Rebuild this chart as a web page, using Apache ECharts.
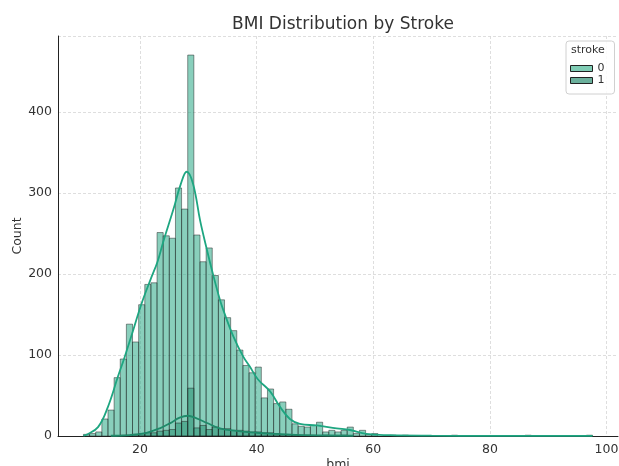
<!DOCTYPE html>
<html>
<head>
<meta charset="utf-8">
<script src="https://cdn.jsdelivr.net/npm/echarts@6/dist/echarts.min.js"></script>
<style>
 html,body{margin:0;padding:0;background:#fff;}
 #chart{width:619px;height:466px;}
</style>
</head>
<body>
<div id="chart"></div>
<script>
// histogram bins (bmi), counts
var binStart=10.3;
var binWidth=1.0518;
var stroke0=[2,3,5,21,32,72,95,138,116,162,187,189,251,247,244,306,280,470,248,215,
  232,198,168,146,130,106,87,78,85,47,58,40,42,33,15,12,11,13,17,5,
  7,5,7,11,3,7,2,3,0,0,1,0,1,0,0,0,0,0,0,0,
  1,0,0,0,0,0,0,0,0,0,0,0,1,0,0,0,0,0,0,0,
  0,0,1];
var stroke1=[0,0,0,0,0,0,1,1,2,3,4,4,6,7,8,16,18,59,10,13,
  8,11,9,9,7,7,6,5,5,4,4,3,2,2,1,1,1,1,0,1,
  0,0,1];
// kde curves [bmi, count]
var kde0=[[10.3,0.5],[10.8,1.5],[12.8,11],[14.5,36],[16.2,73],[17.3,96],[18.5,123],[20.2,162],
  [21.8,193],[23.0,215],[24.0,240],[25.7,279],[27.0,311],[28.0,326],[29.1,311],[30.3,266],
  [31.4,232],[32.5,200],[33.7,168],[34.3,155],[36.0,123],[37.7,98],[38.8,86],[40.2,70],
  [42.3,55],[44.0,36],[45.7,21],[47.4,15],[50.3,13],[53.7,9.5],[56,7.4],[58.8,2.5],
  [62.8,1],[70,0.4],[80,0.2],[90,0.1],[97.6,0.1]];
var kde1=[[15,0.3],[18.3,1.2],[21.1,4],[23.4,9.5],[25.1,15.6],[26.8,22.6],[28.2,25],
  [29.7,21.8],[31.5,16],[33.7,9.5],[36.5,6.4],[40,4],[43.4,2.5],[45.7,1.6],[50,0.8],[56.6,0.3]];
var xTicks=[20,40,60,80,100];

function toBars(counts){
  var out=[];
  for(var i=0;i<counts.length;i++){
    if(counts[i]>0)
      out.push([binStart+i*binWidth,binStart+(i+1)*binWidth,counts[i]]);
  }
  return out;
}
function renderBar(params,api){
  var p0=api.coord([api.value(0),api.value(2)]);
  var p1=api.coord([api.value(1),0]);
  return {type:'rect',
    shape:{x:p0[0],y:p0[1],width:p1[0]-p0[0],height:p1[1]-p0[1]},
    style:api.style()};
}

var font='DejaVu Sans';
var myChart=echarts.init(document.getElementById('chart'));
var option={
  animation:false,
  textStyle:{fontFamily:font},
  title:{text:'BMI Distribution by Stroke',left:338,textAlign:'center',top:11,
    textStyle:{fontFamily:font,fontSize:17,fontWeight:'normal',color:'#333'}},
  grid:{left:58,top:36,right:1,bottom:30,outerBoundsMode:'none',containLabel:false},
  xAxis:{type:'value',min:5.935,max:101.965,
    name:'bmi',nameLocation:'middle',nameGap:22,nameMoveOverlap:false,
    nameTextStyle:{fontFamily:font,fontSize:12.5,color:'#333'},
    axisLine:{show:true,lineStyle:{color:'#222',width:1}},
    axisTick:{show:false,customValues:xTicks},
    axisLabel:{customValues:xTicks,fontFamily:font,fontSize:12.5,color:'#333',margin:7},
    splitLine:{show:true,lineStyle:{color:'#d6d6d6',type:[3,2],width:0.8}}},
  yAxis:{type:'value',min:0,max:493.5,interval:100,
    name:'Count',nameLocation:'middle',nameGap:34,nameMoveOverlap:false,
    nameTextStyle:{fontFamily:font,fontSize:12.5,color:'#333'},
    axisLine:{show:true,lineStyle:{color:'#222',width:1}},
    axisTick:{show:false},
    axisLabel:{fontFamily:font,fontSize:12.5,color:'#333',margin:6,
      formatter:function(v){return v%100===0?v:'';}},
    splitLine:{show:true,lineStyle:{color:'#d6d6d6',type:[3,2],width:0.8}}},
  legend:{left:566,top:41,orient:'vertical',z:10,
    padding:[22,10,8,4],itemGap:1,itemWidth:22,itemHeight:6,
    backgroundColor:'rgba(255,255,255,0.85)',borderColor:'#d0d0d0',borderWidth:1,borderRadius:3,
    textStyle:{fontFamily:font,fontSize:11,color:'#333',lineHeight:11},
    data:[
      {name:'0',icon:'rect',itemStyle:{color:'#80cdb5',borderColor:'#222',borderWidth:1}},
      {name:'1',icon:'rect',itemStyle:{color:'#6bb09c',borderColor:'#222',borderWidth:1}}
    ]},
  graphic:[{type:'text',left:571,top:45,z:100,
    style:{text:'stroke',fontFamily:font,fontSize:11,fill:'#333'}}],
  series:[
    {name:'0',type:'custom',renderItem:renderBar,data:toBars(stroke0),
      encode:{x:[0,1],y:2},
      itemStyle:{color:'rgba(32,165,128,0.53)',borderColor:'rgba(30,30,30,0.6)',borderWidth:0.8}},
    {name:'1',type:'custom',renderItem:renderBar,data:toBars(stroke1),
      encode:{x:[0,1],y:2},
      itemStyle:{color:'rgba(20,130,98,0.45)',borderColor:'rgba(30,30,30,0.6)',borderWidth:0.8}},
    {name:'kde0',type:'line',data:kde0,showSymbol:false,smooth:0.4,z:5,
      lineStyle:{color:'#1ea681',width:1.8}},
    {name:'kde1',type:'line',data:kde1,showSymbol:false,smooth:0.4,z:5,
      lineStyle:{color:'#1f8a6a',width:1.8}}
  ]
};
myChart.setOption(option);
</script>
</body>
</html>
